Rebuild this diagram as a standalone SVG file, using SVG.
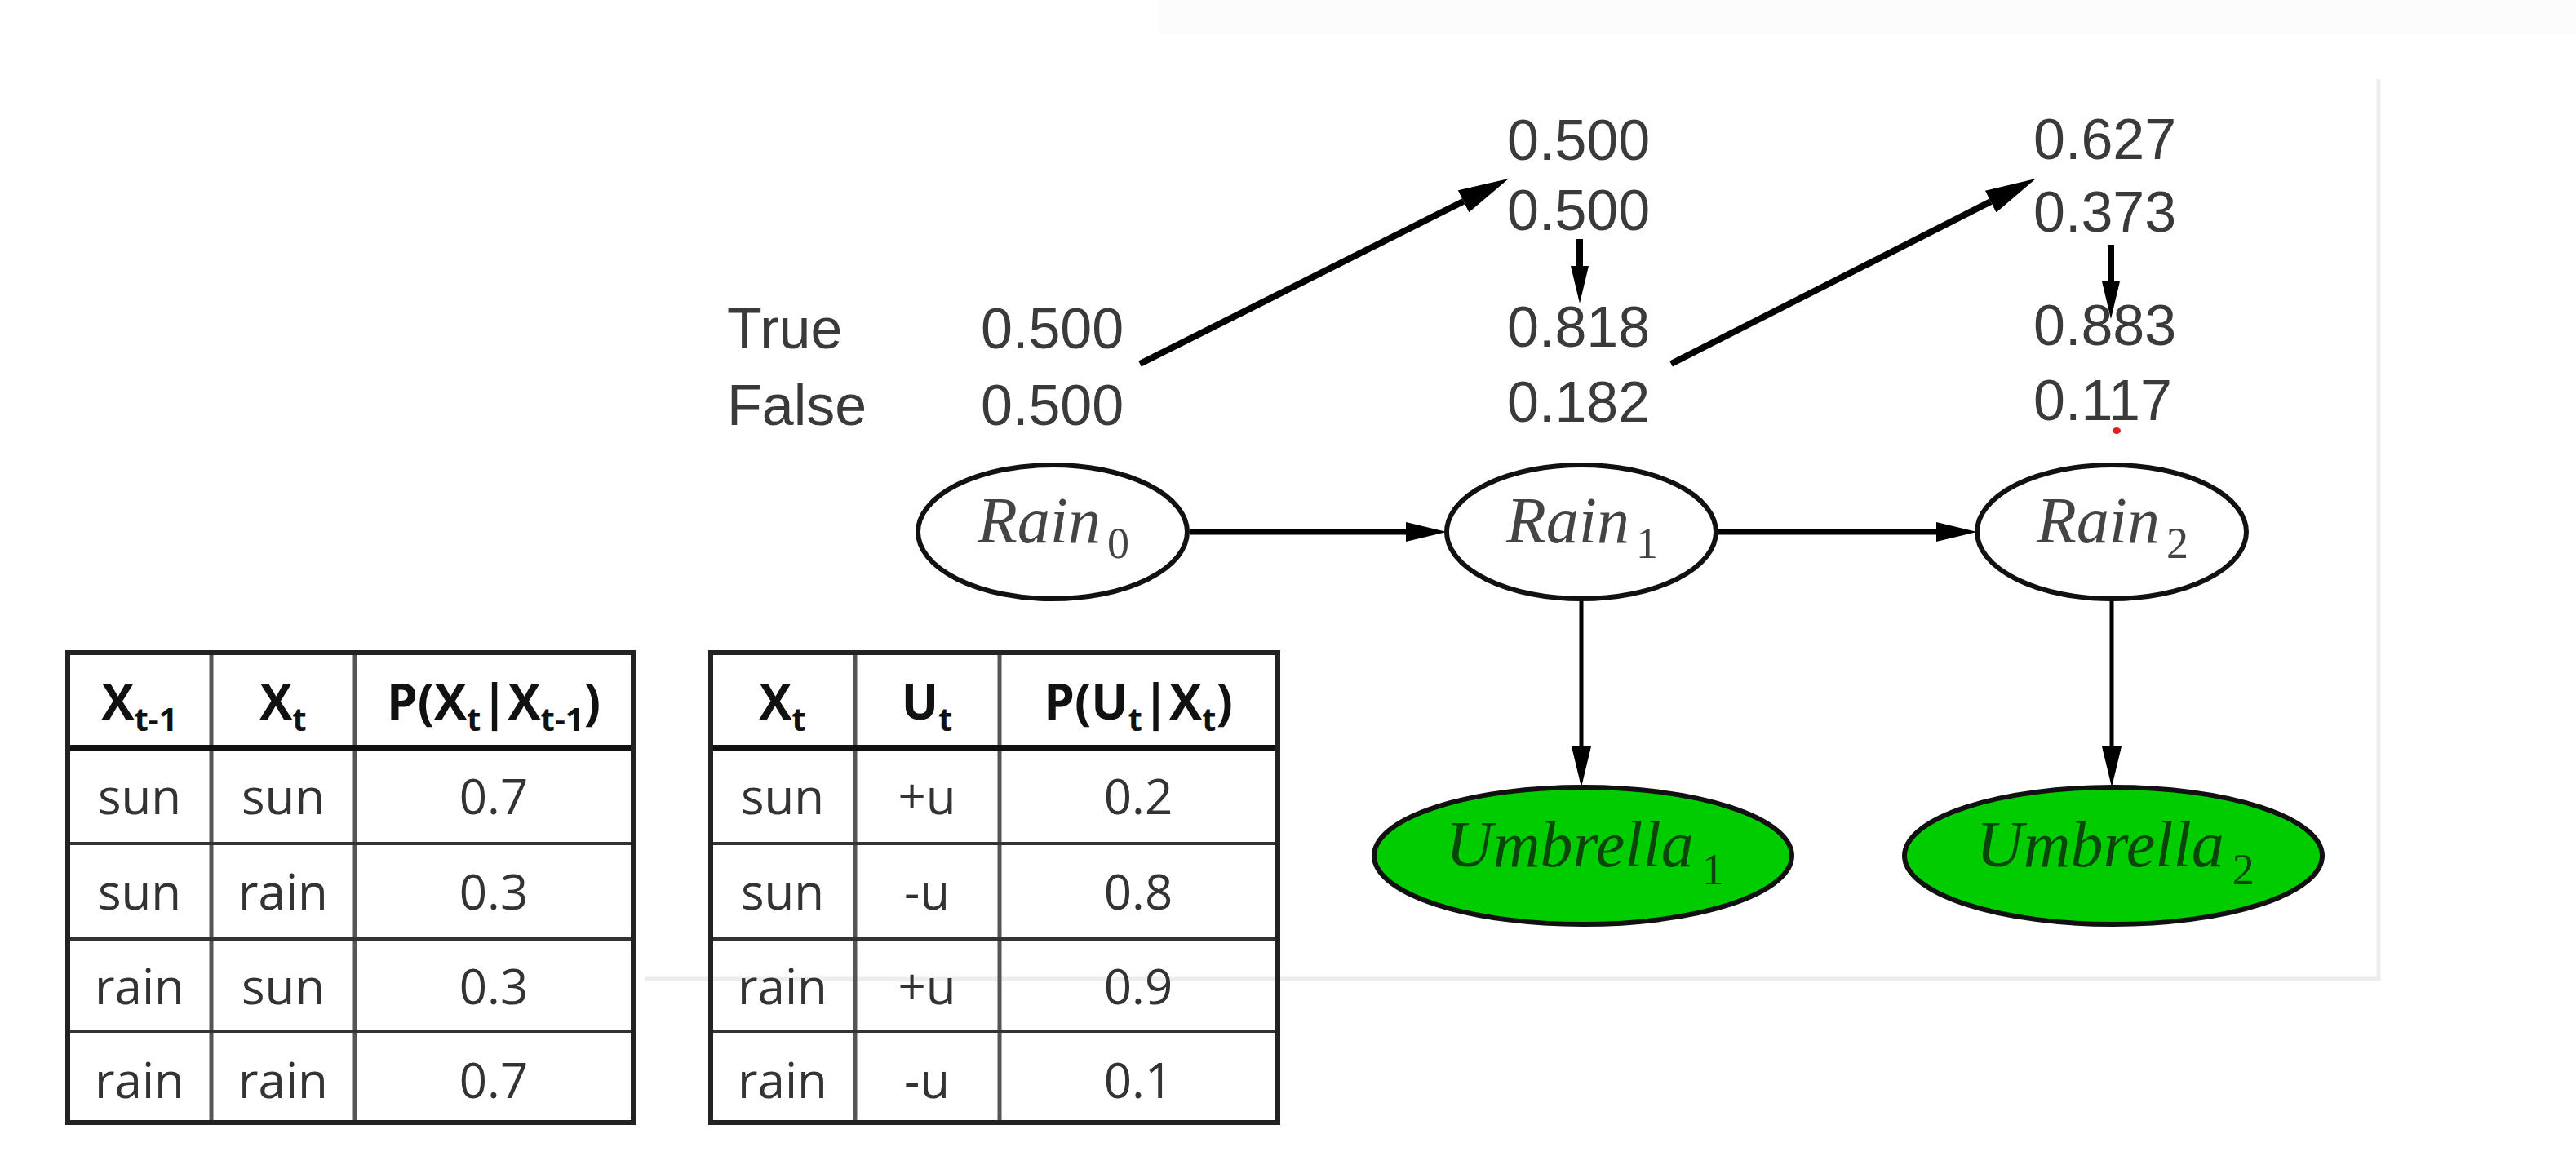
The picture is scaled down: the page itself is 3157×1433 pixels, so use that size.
<svg xmlns="http://www.w3.org/2000/svg" width="3157" height="1433" viewBox="0 0 3157 1433">
<style>
.num{font-family:"Liberation Sans",Arial,sans-serif;font-size:70px;fill:#3a3a3a}
.rain{font-family:"Liberation Serif","Times New Roman",serif;font-style:italic;font-size:80px;fill:#444}
.umb{font-family:"Liberation Serif","Times New Roman",serif;font-style:italic;font-size:80px;fill:#0a460a}
.sub{font-size:54px;font-style:normal}
.node{stroke:#111;stroke-width:6}
.tc{font-family:"Open Sans","Liberation Sans",sans-serif;font-size:60px;fill:#333;text-anchor:middle}
.th{font-family:"Open Sans","Liberation Sans",sans-serif;font-size:60px;font-weight:bold;fill:#111;text-anchor:middle}
.ts{font-size:40px}
.grid{stroke:#333;stroke-width:4;fill:none}
.vgrid{stroke:#555;stroke-width:5;fill:none}
.outer{stroke:#222;stroke-width:6;fill:none}
.hdr{stroke:#111;stroke-width:8}
.edge{stroke:#000;fill:none}
</style>
<defs>
<marker id="ahH" markerUnits="userSpaceOnUse" markerWidth="50" markerHeight="24" refX="0" refY="12" orient="auto"><path d="M0,0 L50,12 L0,24 Z" fill="#000"/></marker>
<marker id="ahD" markerUnits="userSpaceOnUse" markerWidth="62" markerHeight="30" refX="0" refY="15" orient="auto"><path d="M0,0 L62,15 L0,30 Z" fill="#000"/></marker>
<marker id="ahS" markerUnits="userSpaceOnUse" markerWidth="46" markerHeight="22" refX="0" refY="11" orient="auto"><path d="M0,0 L46,11 L0,22 Z" fill="#000"/></marker>
</defs>
<rect width="3157" height="1433" fill="#fff"/>
<rect x="1419" y="0" width="1738" height="42" fill="#fcfcfc"/>
<path id="panel" d="M2915,97 V1200 H790" fill="none" stroke="#ededed" stroke-width="5"/>

<g id="labels">
<text class="num" x="891" y="427">True</text>
<text class="num" x="891" y="521">False</text>
<text class="num" x="1202" y="427">0.500</text>
<text class="num" x="1202" y="521">0.500</text>
<text class="num" x="1847" y="196">0.500</text>
<text class="num" x="1847" y="282">0.500</text>
<text class="num" x="1847" y="425">0.818</text>
<text class="num" x="1847" y="517">0.182</text>
<text class="num" x="2492" y="195">0.627</text>
<text class="num" x="2492" y="284">0.373</text>
<text class="num" x="2492" y="423">0.883</text>
<text class="num" x="2492" y="515">0.117</text>
</g>
<ellipse cx="2594" cy="528" rx="5" ry="4" fill="#e02020"/>

<g id="connectors">
<line class="edge" x1="1458" y1="652" x2="1723" y2="652" stroke-width="7" marker-end="url(#ahH)"/>
<line class="edge" x1="2105" y1="652" x2="2373" y2="652" stroke-width="7" marker-end="url(#ahH)"/>
<line class="edge" x1="1938" y1="737" x2="1938" y2="915" stroke-width="5" marker-end="url(#ahH)"/>
<line class="edge" x1="2588" y1="737" x2="2588" y2="915" stroke-width="5" marker-end="url(#ahH)"/>
<line class="edge" x1="1397" y1="446" x2="1793.6" y2="246.8" stroke-width="8" marker-end="url(#ahD)"/>
<line class="edge" x1="2048" y1="446" x2="2439.7" y2="247.1" stroke-width="8" marker-end="url(#ahD)"/>
<line class="edge" x1="1936" y1="293" x2="1936" y2="326" stroke-width="8" marker-end="url(#ahS)"/>
<line class="edge" x1="2587" y1="300" x2="2587" y2="345" stroke-width="8" marker-end="url(#ahS)"/>
</g>

<g id="rain0">
<ellipse class="node" cx="1290" cy="652" rx="165" ry="82" fill="#fff"/>
<text class="rain" x="1198" y="665">Rain<tspan class="sub" dx="8" dy="19">0</tspan></text>
</g>
<g id="rain1">
<ellipse class="node" cx="1938" cy="652" rx="165" ry="82" fill="#fff"/>
<text class="rain" x="1846" y="665">Rain<tspan class="sub" dx="8" dy="19">1</tspan></text>
</g>
<g id="rain2">
<ellipse class="node" cx="2588" cy="652" rx="165" ry="82" fill="#fff"/>
<text class="rain" x="2496" y="665">Rain<tspan class="sub" dx="8" dy="19">2</tspan></text>
</g>
<g id="umbrella1">
<ellipse class="node" cx="1940" cy="1049" rx="256" ry="84" fill="#00cc00"/>
<text class="umb" x="1772" y="1062">Umbrella<tspan class="sub" dx="10" dy="22">1</tspan></text>
</g>
<g id="umbrella2">
<ellipse class="node" cx="2590" cy="1049" rx="256" ry="84" fill="#00cc00"/>
<text class="umb" x="2422" y="1062">Umbrella<tspan class="sub" dx="10" dy="22">2</tspan></text>
</g>

<g id="table-transition">
<line class="vgrid" x1="259" y1="800" x2="259" y2="1376"/>
<line class="vgrid" x1="435" y1="800" x2="435" y2="1376"/>
<line class="grid" x1="83" y1="1034" x2="776" y2="1034"/>
<line class="grid" x1="83" y1="1151" x2="776" y2="1151"/>
<line class="grid" x1="83" y1="1264" x2="776" y2="1264"/>
<line class="hdr" x1="83" y1="917" x2="776" y2="917"/>
<rect class="outer" x="83" y="800" width="693" height="576"/>
<text class="th" x="171" y="882">X<tspan class="ts" dy="14">t-1</tspan></text>
<text class="th" x="347" y="882">X<tspan class="ts" dy="14">t</tspan></text>
<text class="th" x="605" y="882">P(X<tspan class="ts" dy="14">t</tspan><tspan dy="-14">|X</tspan><tspan class="ts" dy="14">t-1</tspan><tspan dy="-14">)</tspan></text>
<text class="tc" x="171" y="998">sun</text><text class="tc" x="347" y="998">sun</text><text class="tc" x="605" y="998">0.7</text>
<text class="tc" x="171" y="1115">sun</text><text class="tc" x="347" y="1115">rain</text><text class="tc" x="605" y="1115">0.3</text>
<text class="tc" x="171" y="1231">rain</text><text class="tc" x="347" y="1231">sun</text><text class="tc" x="605" y="1231">0.3</text>
<text class="tc" x="171" y="1346">rain</text><text class="tc" x="347" y="1346">rain</text><text class="tc" x="605" y="1346">0.7</text>
</g>

<g id="table-emission">
<line class="vgrid" x1="1048" y1="800" x2="1048" y2="1376"/>
<line class="vgrid" x1="1225" y1="800" x2="1225" y2="1376"/>
<line class="grid" x1="871" y1="1034" x2="1566" y2="1034"/>
<line class="grid" x1="871" y1="1151" x2="1566" y2="1151"/>
<line class="grid" x1="871" y1="1264" x2="1566" y2="1264"/>
<line class="hdr" x1="871" y1="917" x2="1566" y2="917"/>
<rect class="outer" x="871" y="800" width="695" height="576"/>
<text class="th" x="959" y="882">X<tspan class="ts" dy="14">t</tspan></text>
<text class="th" x="1136" y="882">U<tspan class="ts" dy="14">t</tspan></text>
<text class="th" x="1395" y="882">P(U<tspan class="ts" dy="14">t</tspan><tspan dy="-14">|X</tspan><tspan class="ts" dy="14">t</tspan><tspan dy="-14">)</tspan></text>
<text class="tc" x="959" y="998">sun</text><text class="tc" x="1136" y="998">+u</text><text class="tc" x="1395" y="998">0.2</text>
<text class="tc" x="959" y="1115">sun</text><text class="tc" x="1136" y="1115">-u</text><text class="tc" x="1395" y="1115">0.8</text>
<text class="tc" x="959" y="1231">rain</text><text class="tc" x="1136" y="1231">+u</text><text class="tc" x="1395" y="1231">0.9</text>
<text class="tc" x="959" y="1346">rain</text><text class="tc" x="1136" y="1346">-u</text><text class="tc" x="1395" y="1346">0.1</text>
</g>
</svg>
